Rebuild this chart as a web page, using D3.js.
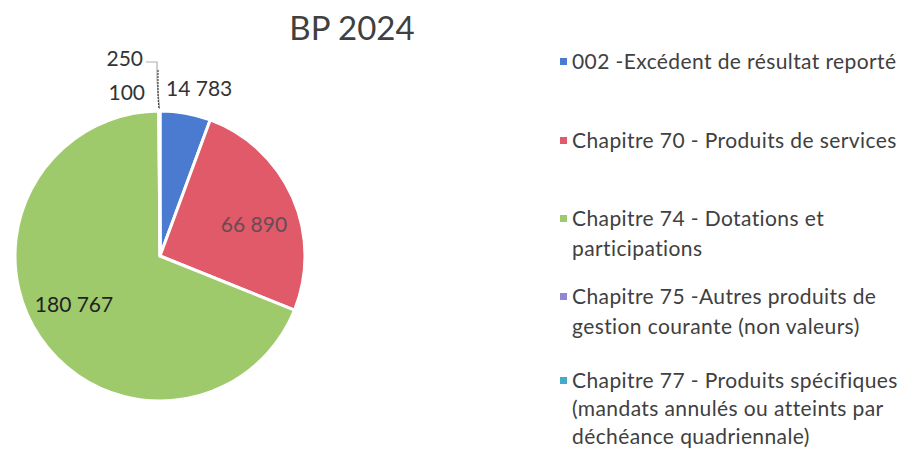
<!DOCTYPE html>
<html><head><meta charset="utf-8">
<script src="https://cdn.jsdelivr.net/npm/d3@7"></script>
<style>body{margin:0;background:#fff}svg{display:block}text{font-variant-ligatures:none;font-feature-settings:"liga" 0}</style>
</head><body>
<svg id="c" width="914" height="450"></svg>
<script>
const categories = [
  "002 -Excédent de résultat reporté",
  "Chapitre 70 - Produits de services",
  "Chapitre 74 - Dotations et participations",
  "Chapitre 75 -Autres produits de gestion courante (non valeurs)",
  "Chapitre 77 - Produits spécifiques (mandats annulés ou atteints par déchéance quadriennale)"
];
const legendLines = [
  ["002 -Excédent de résultat reporté"],
  ["Chapitre 70 - Produits de services"],
  ["Chapitre 74 - Dotations et", "participations"],
  ["Chapitre 75 -Autres produits de", "gestion courante (non valeurs)"],
  ["Chapitre 77 - Produits spécifiques", "(mandats annulés ou atteints par", "déchéance quadriennale)"]
];
const values = [14783, 66890, 180767, 100, 250];
const valueLabels = ["14 783", "66 890", "180 767", "100", "250"];
const colors = ["#4a7bd0", "#e05a6a", "#9fca6c", "#9285d3", "#45a9c8"];
const title = "BP 2024";

const svg = d3.select("#c");
const font = "Lato, 'Open Sans', sans-serif";
const cx = 160, cy = 256, r = 145;

svg.append("text").attr("x", 352).attr("y", 40).attr("text-anchor", "middle")
  .attr("font-family", font).attr("font-size", 33).attr("fill", "#404040").text(title);

const pie = d3.pie().sort(null).value(d => d);
const arcs = pie(values);
const arc = d3.arc().innerRadius(0).outerRadius(r);
const g = svg.append("g").attr("transform", `translate(${cx},${cy})`);
g.selectAll("path").data(arcs).join("path")
  .attr("d", arc).attr("fill", (d, i) => colors[i])
  .attr("stroke", "#fff").attr("stroke-width", 3).attr("stroke-linejoin", "round");

// data labels
const labelPos = [
  {x: 166, y: 96, anchor: "start", fill: "#333"},
  {x: 254, y: 232, anchor: "middle", fill: "#6a4a52"},
  {x: 74, y: 312, anchor: "middle", fill: "#222"},
  {x: 145, y: 100, anchor: "end", fill: "#333"},
  {x: 143, y: 66, anchor: "end", fill: "#333"}
];
svg.selectAll("text.lbl").data(valueLabels).join("text").attr("class", "lbl")
  .attr("x", (d, i) => labelPos[i].x).attr("y", (d, i) => labelPos[i].y)
  .attr("text-anchor", (d, i) => labelPos[i].anchor)
  .attr("font-family", font).attr("font-size", 21)
  .attr("fill", (d, i) => labelPos[i].fill).text(d => d);

// leader lines for tiny slices
const tipAngle = a => [cx + r * Math.sin(a), cy - r * Math.cos(a)];
const t4 = tipAngle((arcs[4].startAngle + arcs[4].endAngle) / 2);
const t3 = tipAngle((arcs[3].startAngle + arcs[3].endAngle) / 2);
svg.append("path").attr("d", `M146,62 L157,62 L157,80 L${t4[0]},${t4[1] - 2}`)
  .attr("fill", "none").attr("stroke", "#b0b0b0").attr("stroke-width", 1.2);
svg.append("path").attr("d", `M158,70 L158,96 L${t3[0]},${t3[1] - 2}`)
  .attr("fill", "none").attr("stroke", "#444").attr("stroke-width", 1.2).attr("stroke-dasharray", "2,1");

// legend
const lg = svg.append("g");
const tops = [62, 141, 219, 297, 381];
const lh = [29, 29, 30, 30, 28];
legendLines.forEach((lines, i) => {
  lg.append("rect").attr("x", 560).attr("y", tops[i] - 4).attr("width", 7).attr("height", 7).attr("fill", colors[i]);
  lines.forEach((t, j) => {
    lg.append("text").attr("x", 572).attr("y", tops[i] + 7 + j * lh[i])
      .attr("font-family", font).attr("font-size", 21).attr("letter-spacing", 0.4)
      .attr("fill", "#404040").text(t);
  });
});
</script>
</body></html>
